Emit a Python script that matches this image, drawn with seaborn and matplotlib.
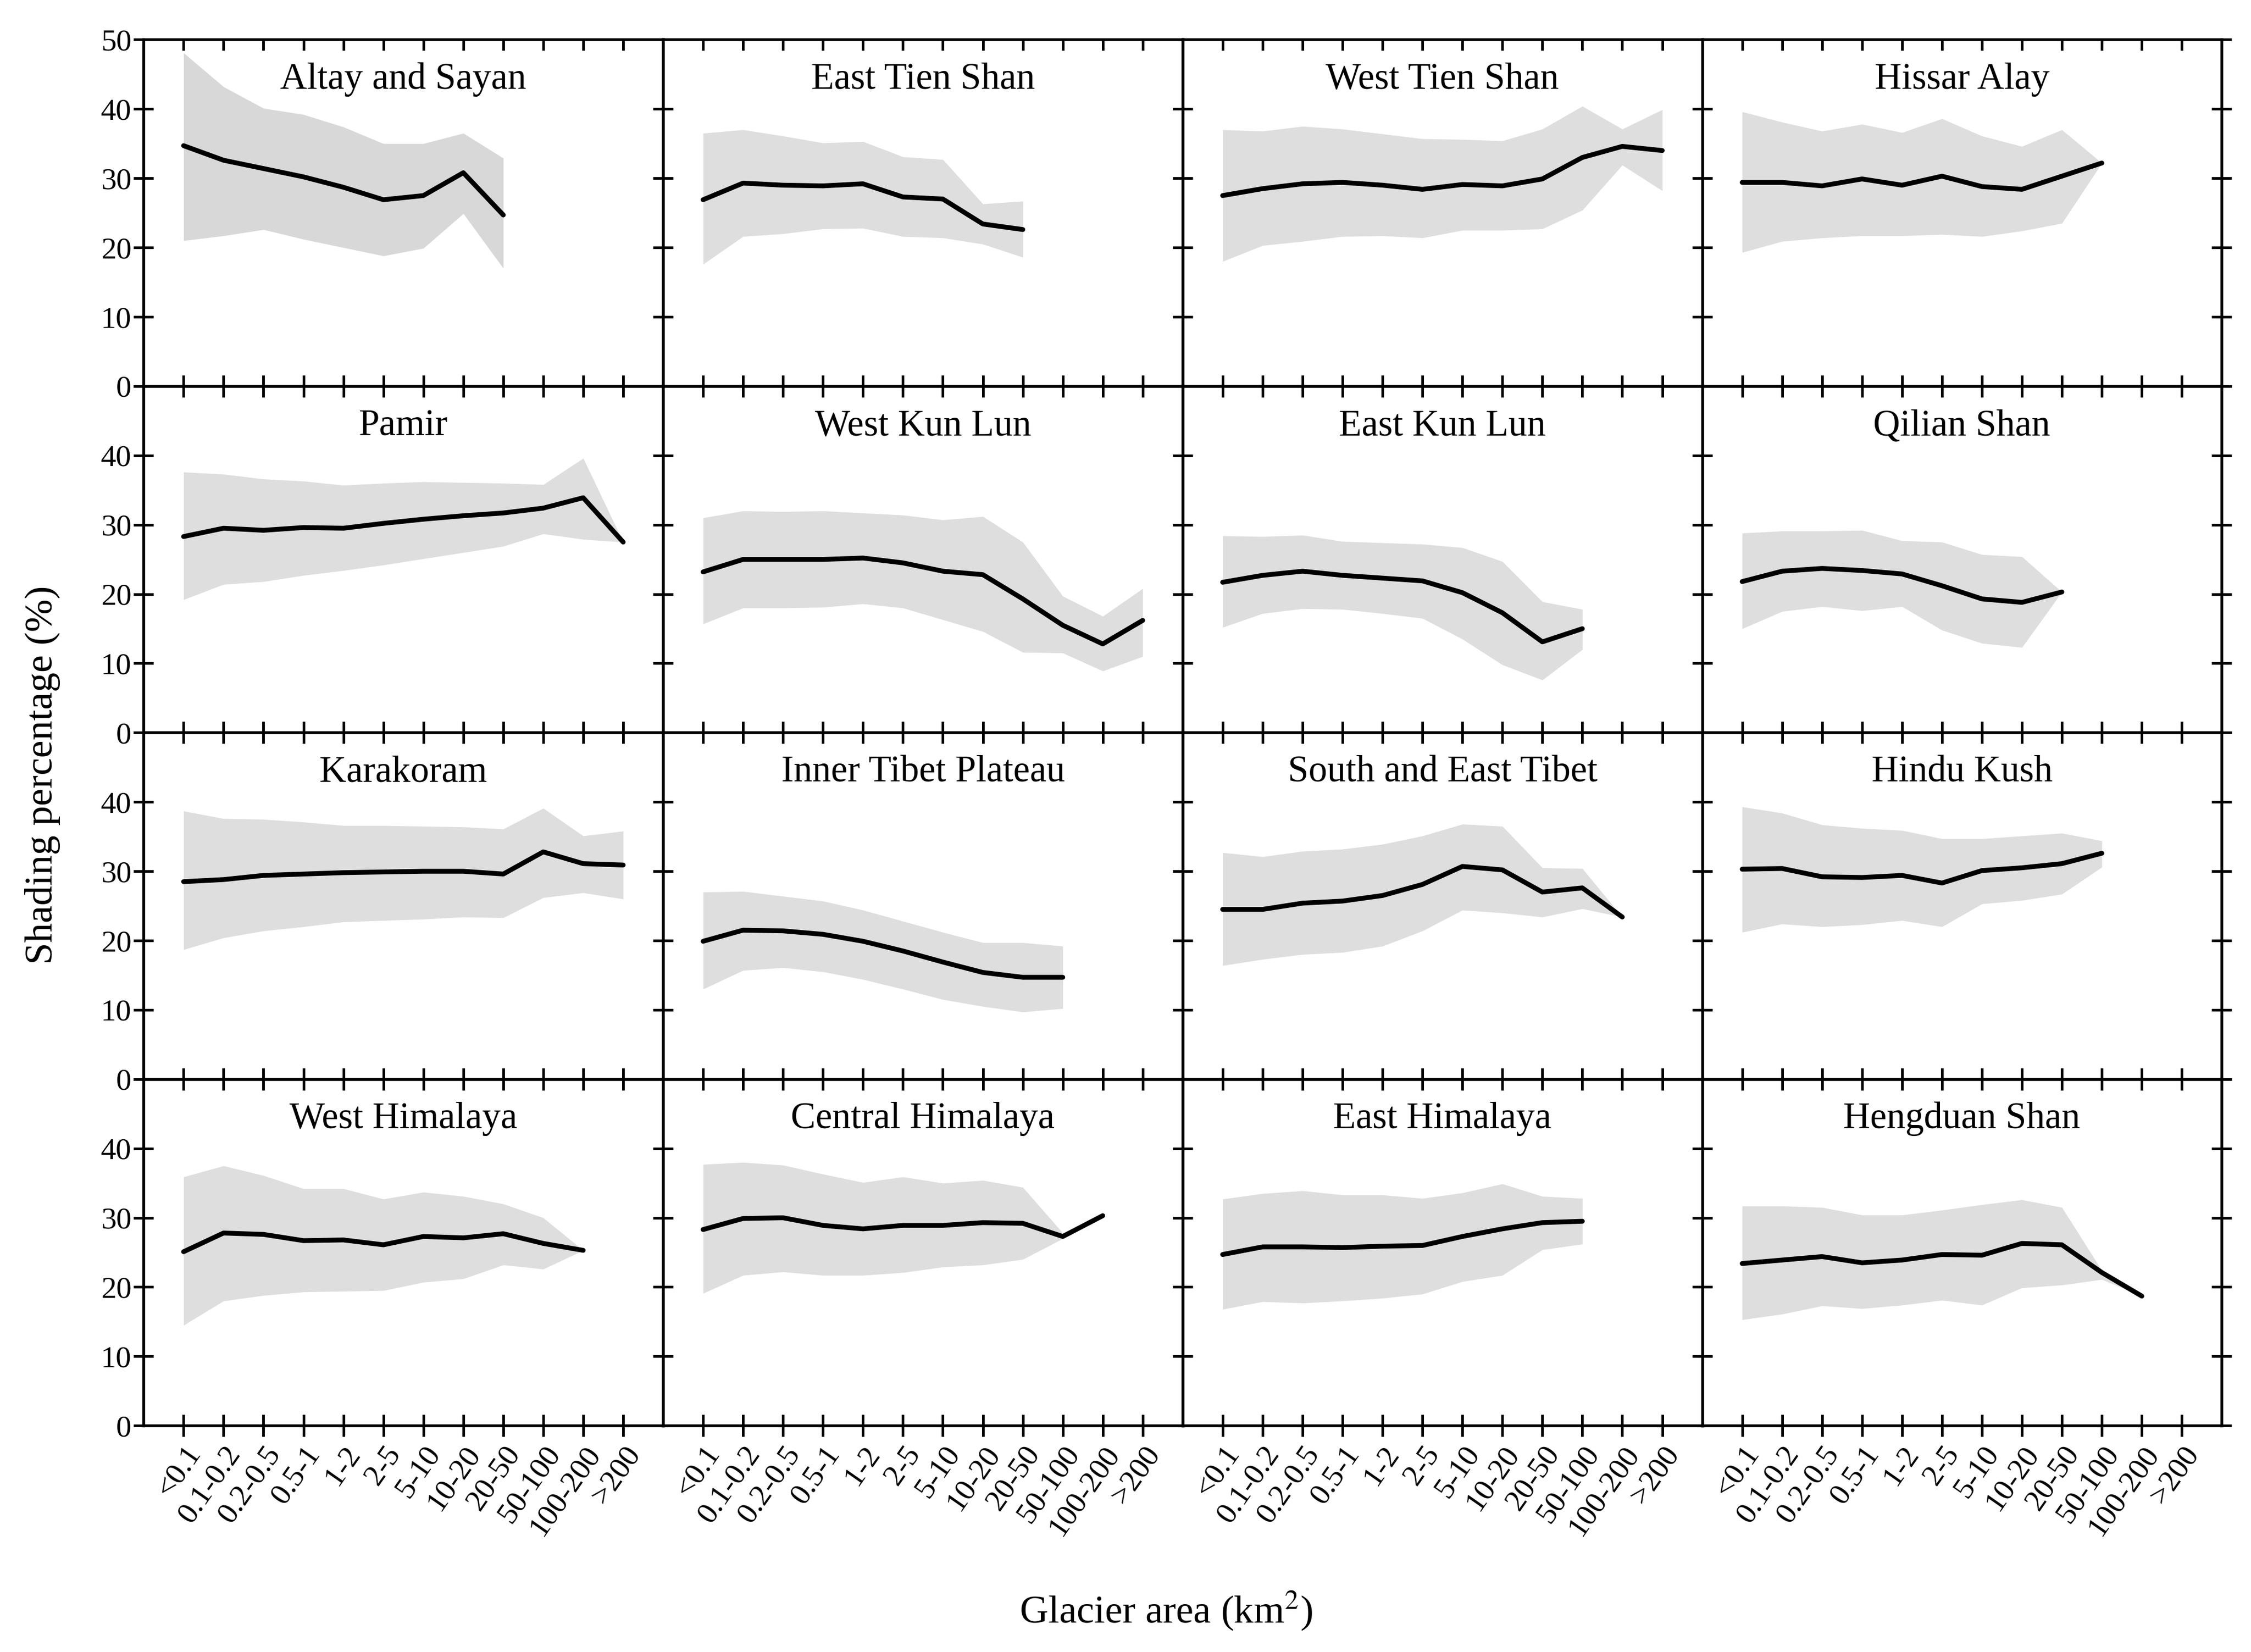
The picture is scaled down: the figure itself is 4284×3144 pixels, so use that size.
import numpy as np
import pandas as pd
import matplotlib
matplotlib.use('Agg')
import matplotlib.pyplot as plt
import seaborn as sns

area_classes = ['<0.1', '0.1-0.2', '0.2-0.5', '0.5-1', '1-2', '2-5', '5-10',
                '10-20', '20-50', '50-100', '100-200', '>200']

regions = ['Altay and Sayan', 'East Tien Shan', 'West Tien Shan', 'Hissar Alay',
           'Pamir', 'West Kun Lun', 'East Kun Lun', 'Qilian Shan',
           'Karakoram', 'Inner Tibet Plateau', 'South and East Tibet', 'Hindu Kush',
           'West Himalaya', 'Central Himalaya', 'East Himalaya', 'Hengduan Shan']

# mean shading percentage and the band (low / high) per area class
altay_mean = [34.7, 32.6, 31.4, 30.2, 28.7, 26.9, 27.5, 30.8, 24.7]
altay_low = [21.0, 21.7, 22.6, 21.2, 20.0, 18.8, 19.9, 24.9, 17.0]
altay_high = [48.1, 43.2, 40.1, 39.2, 37.4, 35.0, 35.0, 36.5, 32.9]

etien_mean = [26.9, 29.3, 29.0, 28.9, 29.2, 27.3, 27.0, 23.4, 22.6]
etien_low = [17.6, 21.6, 22.0, 22.7, 22.8, 21.6, 21.4, 20.5, 18.6]
etien_high = [36.5, 37.0, 36.1, 35.1, 35.3, 33.1, 32.7, 26.3, 26.7]

wtien_mean = [27.5, 28.5, 29.2, 29.4, 29.0, 28.4, 29.1, 28.9, 29.9, 33.0, 34.6, 34.0]
wtien_low = [18.0, 20.3, 20.9, 21.6, 21.7, 21.4, 22.5, 22.5, 22.7, 25.4, 31.9, 28.2]
wtien_high = [37.0, 36.8, 37.5, 37.1, 36.4, 35.7, 35.6, 35.4, 37.1, 40.4, 37.1, 39.9]

hissar_mean = [29.4, 29.4, 28.9, 29.9, 29.0, 30.3, 28.8, 28.4, 30.3, 32.2]
hissar_low = [19.3, 20.9, 21.4, 21.7, 21.7, 21.9, 21.6, 22.4, 23.5, 32.2]
hissar_high = [39.6, 38.1, 36.8, 37.8, 36.6, 38.6, 36.1, 34.6, 37.0, 32.2]

pamir_mean = [28.3, 29.5, 29.2, 29.6, 29.5, 30.2, 30.8, 31.3, 31.7, 32.4, 33.9, 27.5]
pamir_low = [19.2, 21.4, 21.8, 22.7, 23.4, 24.2, 25.1, 26.0, 26.9, 28.7, 27.9, 27.5]
pamir_high = [37.6, 37.3, 36.6, 36.3, 35.7, 36.0, 36.2, 36.1, 36.0, 35.8, 39.6, 27.5]

wkun_mean = [23.2, 25.0, 25.0, 25.0, 25.2, 24.5, 23.3, 22.8, 19.3, 15.5, 12.8, 16.2]
wkun_low = [15.7, 18.0, 18.0, 18.1, 18.6, 18.0, 16.3, 14.6, 11.6, 11.5, 8.9, 11.0]
wkun_high = [31.0, 32.0, 31.9, 32.0, 31.7, 31.4, 30.7, 31.2, 27.5, 19.7, 16.8, 20.8]

ekun_mean = [21.7, 22.7, 23.3, 22.7, 22.3, 21.9, 20.2, 17.3, 13.1, 15.0]
ekun_low = [15.2, 17.2, 17.9, 17.8, 17.2, 16.5, 13.5, 9.8, 7.6, 12.0]
ekun_high = [28.4, 28.3, 28.5, 27.6, 27.4, 27.2, 26.7, 24.7, 18.9, 17.8]

qilian_mean = [21.8, 23.3, 23.7, 23.4, 22.9, 21.2, 19.3, 18.8, 20.3]
qilian_low = [15.0, 17.5, 18.2, 17.6, 18.2, 14.8, 12.9, 12.3, 20.3]
qilian_high = [28.8, 29.1, 29.1, 29.2, 27.7, 27.5, 25.7, 25.4, 20.3]

kara_mean = [28.5, 28.8, 29.4, 29.6, 29.8, 29.9, 30.0, 30.0, 29.6, 32.8, 31.1, 30.9]
kara_low = [18.7, 20.4, 21.4, 22.0, 22.7, 22.9, 23.1, 23.4, 23.3, 26.2, 26.9, 26.0]
kara_high = [38.7, 37.6, 37.5, 37.1, 36.6, 36.6, 36.5, 36.4, 36.1, 39.1, 35.1, 35.8]

itibet_mean = [19.9, 21.5, 21.4, 20.9, 19.9, 18.5, 16.9, 15.4, 14.7, 14.7]
itibet_low = [13.0, 15.7, 16.1, 15.5, 14.4, 13.0, 11.5, 10.5, 9.7, 10.2]
itibet_high = [27.0, 27.1, 26.4, 25.7, 24.4, 22.8, 21.2, 19.7, 19.7, 19.2]

setibet_mean = [24.5, 24.5, 25.4, 25.7, 26.5, 28.1, 30.7, 30.2, 27.0, 27.6, 23.4]
setibet_low = [16.4, 17.3, 18.0, 18.3, 19.2, 21.4, 24.4, 24.0, 23.4, 24.6, 23.4]
setibet_high = [32.7, 32.1, 32.9, 33.2, 33.9, 35.1, 36.8, 36.5, 30.5, 30.4, 23.4]

hindu_mean = [30.3, 30.4, 29.2, 29.1, 29.4, 28.3, 30.1, 30.5, 31.1, 32.6]
hindu_low = [21.2, 22.4, 22.0, 22.3, 22.9, 22.0, 25.3, 25.8, 26.7, 30.6]
hindu_high = [39.3, 38.4, 36.7, 36.2, 35.9, 34.7, 34.7, 35.1, 35.5, 34.4]

whim_mean = [25.1, 27.8, 27.6, 26.7, 26.8, 26.1, 27.3, 27.1, 27.7, 26.3, 25.3]
whim_low = [14.5, 18.0, 18.8, 19.3, 19.4, 19.5, 20.7, 21.2, 23.2, 22.6, 25.3]
whim_high = [35.9, 37.5, 36.1, 34.2, 34.2, 32.7, 33.7, 33.1, 32.0, 30.0, 25.3]

chim_mean = [28.3, 29.9, 30.0, 28.9, 28.4, 28.9, 28.9, 29.3, 29.2, 27.3, 30.3]
chim_low = [19.1, 21.7, 22.2, 21.7, 21.7, 22.1, 22.9, 23.2, 24.0, 27.0, 30.3]
chim_high = [37.7, 38.0, 37.6, 36.3, 35.1, 35.9, 35.0, 35.4, 34.4, 27.8, 30.3]

ehim_mean = [24.7, 25.8, 25.8, 25.7, 25.9, 26.0, 27.3, 28.4, 29.3, 29.5]
ehim_low = [16.8, 17.9, 17.7, 18.0, 18.4, 19.0, 20.8, 21.7, 25.4, 26.2]
ehim_high = [32.7, 33.5, 33.9, 33.3, 33.3, 32.8, 33.6, 34.9, 33.1, 32.8]

heng_mean = [23.4, 23.9, 24.4, 23.5, 23.9, 24.7, 24.6, 26.3, 26.1, 22.1, 18.7]
heng_low = [15.3, 16.1, 17.3, 16.9, 17.4, 18.1, 17.4, 19.9, 20.3, 21.1, 18.7]
heng_high = [31.7, 31.7, 31.5, 30.4, 30.4, 31.1, 31.9, 32.6, 31.5, 22.4, 18.7]

series = [
    (altay_mean, altay_low, altay_high), (etien_mean, etien_low, etien_high),
    (wtien_mean, wtien_low, wtien_high), (hissar_mean, hissar_low, hissar_high),
    (pamir_mean, pamir_low, pamir_high), (wkun_mean, wkun_low, wkun_high),
    (ekun_mean, ekun_low, ekun_high), (qilian_mean, qilian_low, qilian_high),
    (kara_mean, kara_low, kara_high), (itibet_mean, itibet_low, itibet_high),
    (setibet_mean, setibet_low, setibet_high), (hindu_mean, hindu_low, hindu_high),
    (whim_mean, whim_low, whim_high), (chim_mean, chim_low, chim_high),
    (ehim_mean, ehim_low, ehim_high), (heng_mean, heng_low, heng_high),
]

rows = []
for name, (m, lo, hi) in zip(regions, series):
    for i in range(len(m)):
        rows.append({'region': name, 'area': area_classes[i], 'pos': i,
                     'mean': m[i], 'low': lo[i], 'high': hi[i]})
df = pd.DataFrame(rows)

sns.set_theme(style='white')
plt.rcParams['font.family'] = ['Liberation Serif', 'DejaVu Serif']
plt.rcParams['mathtext.fontset'] = 'stix'
plt.rcParams['text.color'] = 'black'
plt.rcParams['xtick.color'] = 'black'
plt.rcParams['ytick.color'] = 'black'
plt.rcParams['axes.edgecolor'] = 'black'

fig, axes = plt.subplots(4, 4, figsize=(14.28, 10.48), dpi=300)
fig.subplots_adjust(left=0.0638, right=0.987, top=0.976, bottom=0.137,
                    wspace=0, hspace=0)

for k, ax in enumerate(axes.flat):
    r, c = divmod(k, 4)
    name = regions[k]
    d = df[df.region == name]
    ax.fill_between(d['pos'], d['low'], d['high'],
                    color='#d8d8d8' if k == 0 else '#dedede', lw=0)
    sns.lineplot(data=d, x='pos', y='mean', color='black', lw=2.2, ax=ax)
    ax.text(0.5, 0.885, name, transform=ax.transAxes, ha='center', va='center',
            fontsize=17)

    ax.set_xlim(-1, 12)
    ax.set_ylim(0, 50)
    ax.set_xticks(range(len(area_classes)))
    ax.set_yticks(range(0, 51, 10))
    ax.set_xlabel('')
    ax.set_ylabel('')
    for s in ax.spines.values():
        s.set_linewidth(1.3)

    ax.tick_params(axis='x', which='major', top=True, bottom=True,
                   direction='inout' if r == 3 else 'in',
                   length=10 if r == 3 else 5, width=1.2, pad=2, labelsize=14)
    ax.tick_params(axis='y', which='major', left=True, right=True,
                   direction='inout', length=9, width=1.2, pad=1, labelsize=14)

    if r == 3:
        ax.set_xticklabels(area_classes, rotation=55, ha='right', va='top',
                           rotation_mode='anchor')
    else:
        ax.tick_params(axis='x', labelbottom=False)
    if c == 0:
        labels = [str(v) for v in range(0, 51, 10)]
        if r > 0:
            labels[-1] = ''
        ax.set_yticklabels(labels)
    else:
        ax.tick_params(axis='y', labelleft=False)

fig.text(0.518, 0.025, 'Glacier area (km$^2$)', ha='center', va='center', fontsize=18)
fig.text(0.019, 0.531, 'Shading percentage (%)', ha='center', va='center',
         rotation=90, fontsize=18)

fig.savefig('out.png', dpi=300)
